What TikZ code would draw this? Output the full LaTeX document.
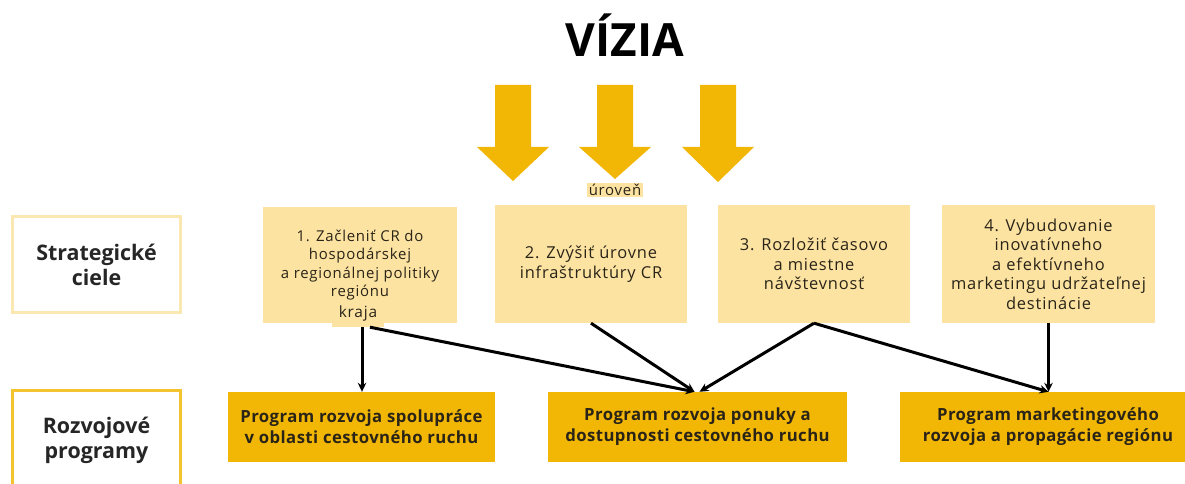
\documentclass[tikz,border=0pt]{standalone}
\usepackage{fontspec}
\setmainfont{Open Sans}
\newfontfamily\goalfont[LetterSpace=5]{Open Sans}
\newfontfamily\progfont[LetterSpace=2.5]{Open Sans}
\usetikzlibrary{arrows.meta,calc}
\definecolor{gold}{HTML}{F2B705}
\definecolor{pale}{HTML}{FCE3A2}
\definecolor{paleline}{HTML}{FBE8B0}
\definecolor{goldline}{HTML}{F4C430}
\definecolor{ink}{HTML}{2A2418}
\begin{document}
\begin{tikzpicture}[x=1bp,y=-1bp,
  goal/.style={fill=pale, draw=none, align=center, text=ink, inner sep=0pt,
    minimum height=118bp, font=\goalfont\fontsize{16.5}{19.6}\selectfont},
  prog/.style={fill=gold, draw=none, align=center, text=ink, inner sep=0pt,
    minimum height=70bp, font=\progfont\fontsize{16.8}{21}\selectfont\bfseries},
  rowlabel/.style={fill=white, line width=3bp, align=center, inner sep=0pt,
    font=\fontsize{21.5}{25}\selectfont\bfseries, text=black!85,
    minimum width=167bp},
  bigarrow/.style={fill=gold, draw=none},
  connector/.style={line width=3bp, -{Stealth[length=9bp,width=8.5bp]}}]
\useasboundingbox (0,0) rectangle (1185,484);
\fill[white] (0,0) rectangle (1185,484);

% title
\node[font=\fontsize{46}{50}\selectfont\bfseries, anchor=base] (vizia) at (625,57) {VÍZIA};

% big arrows
\foreach \cx/\ty in {513/181, 615/179, 718/182}{
  \fill[bigarrow] (\cx-18,85) -- (\cx+18,85) -- (\cx+18,147) -- (\cx+36,147)
    -- (\cx,\ty) -- (\cx-36,147) -- (\cx-18,147) -- cycle;
}
\node[fill=pale, inner sep=1.5bp, text=ink, font=\goalfont\fontsize{15}{17}\selectfont] (uroven) at (615,190) {úroveň};

% row labels
\node[rowlabel, draw=paleline, minimum height=96bp] (sc) at (96.5,265) {Strategické\\ciele};
\node[rowlabel, draw=goldline, minimum height=98bp] (rp) at (96.5,440) {Rozvojové\\programy};

% strategic goals
\node[goal, minimum width=194bp, minimum height=116bp, font=\goalfont\fontsize{15}{18.3}\selectfont] (b1) at (360,265)
  {1. Začleniť CR do\\hospodárskej\\a regionálnej politiky\\regiónu};
\node[fill=pale, inner xsep=7bp, inner ysep=0pt, minimum height=27bp, text=ink,
  font=\goalfont\fontsize{15.5}{17}\selectfont] (kraja) at (358,313.5) {kraja};
\node[goal, minimum width=192bp] (b2) at (591,264) {2. Zvýšiť úrovne\\infraštruktúry CR};
\node[goal, minimum width=192bp] (b3) at (814,264) {3. Rozložiť časovo\\a miestne\\návštevnosť};
\node[goal, minimum width=213bp] (b4) at (1048.5,264)
  {4. Vybudovanie\\inovatívneho\\a efektívneho\\marketingu udržateľnej\\destinácie};

% programmes
\node[prog, minimum width=267bp] (p1) at (361.5,427) {Program rozvoja spolupráce\\v oblasti cestovného ruchu};
\node[prog, minimum width=299bp] (p2) at (697.5,427) {Program rozvoja ponuky a\\dostupnosti cestovného ruchu};
\node[prog, minimum width=296bp] (p3) at (1048,427) {Program marketingového\\rozvoja a propagácie regiónu};

% connectors
\draw[connector] ($(kraja.south)+(4,0)$) -- ($(kraja.south |- p1.north)+(4,0)$);
\draw[connector] ($(kraja.south)+(12,0)$) -- ($(p2.north)+(-3,0)$);
\draw[connector] (b2.south) -- ($(p2.north)+(-3,0)$);
\draw[connector] (b3.south) -- ($(p2.north)+(2,0)$);
\draw[connector] (b3.south) -- (b4.south |- p3.north);
\draw[connector] (b4.south) -- (b4.south |- p3.north);
\end{tikzpicture}
\end{document}
